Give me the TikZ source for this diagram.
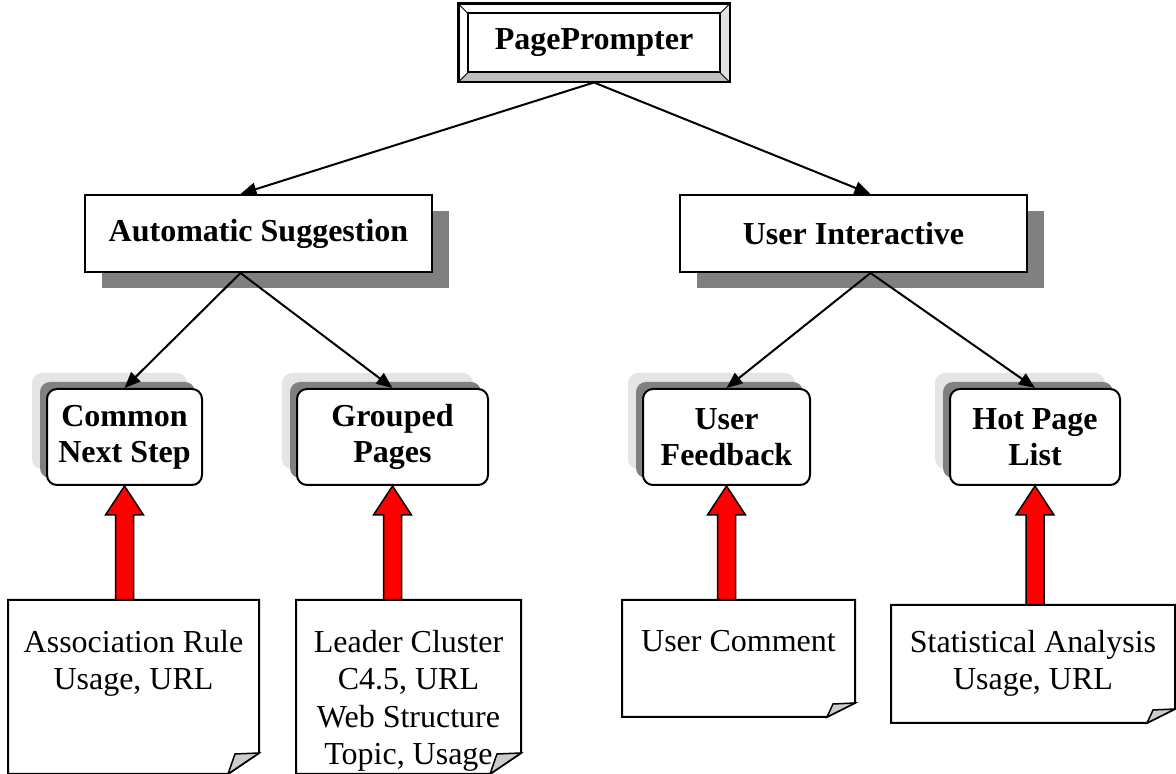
\documentclass[tikz,border=0pt]{standalone}
\usepackage{fontspec}
\setmainfont{Liberation Serif}
\usetikzlibrary{positioning,shadows,arrows.meta,calc}

\newcommand{\redup}[2]{%
  \draw[redarrow] let \p1=(#1.south), \p2=(#2.north) in
    (\x1-9pt,\y2) -- (\x1-9pt,\y1-29pt) -- (\x1-19pt,\y1-29pt) -- (\x1,\y1)
    -- (\x1+19pt,\y1-29pt) -- (\x1+9pt,\y1-29pt) -- (\x1+9pt,\y2) -- cycle;}

\begin{document}
\begin{tikzpicture}[x=1pt,y=1pt,line width=2pt,
    >={Triangle[length=16pt,width=13pt]},
    every node/.style={font=\fontsize{32}{37.5}\selectfont},
    topbox/.style={draw,fill=white,minimum width=270pt,minimum height=77pt,
      font=\fontsize{32}{37.5}\selectfont\bfseries},
    midbox/.style={draw,fill=white,minimum width=347pt,minimum height=77pt,
      font=\fontsize{32}{37.5}\selectfont\bfseries,
      general shadow={fill=black!50,shadow xshift=17pt,shadow yshift=-16pt}},
    lowbox/.style={draw,fill=white,rounded corners=10pt,minimum height=96pt,
      inner xsep=4pt,align=center,font=\fontsize{32}{36}\selectfont\bfseries,
      general shadow={fill=black!10,shadow xshift=-15pt,shadow yshift=16pt},
      general shadow={fill=black!50,shadow xshift=-7pt,shadow yshift=7pt}},
    note/.style={inner sep=0pt},
    notetext/.style={align=center,inner sep=0pt},
    redarrow/.style={fill=red,draw=black,line width=1.5pt},
    curl/.style={fill=black!20,line width=1.5pt}]

  \useasboundingbox (0,0) rectangle (1176,774);

  % top
  \node[topbox] (pp) at (594,731) {PagePrompter};
  \coordinate (pp-a) at ([shift={(10,-10)}]pp.north west);
  \coordinate (pp-b) at ([shift={(-10,-10)}]pp.north east);
  \coordinate (pp-c) at ([shift={(-10,10)}]pp.south east);
  \coordinate (pp-d) at ([shift={(10,10)}]pp.south west);
  \fill[black!25] (pp.south west) -- (pp-d) -- (pp-c) -- (pp.south east) -- cycle;
  \fill[black!12] (pp.south east) -- (pp-c) -- (pp-b) -- (pp.north east) -- cycle;
  \draw[line width=1pt] (pp.north west) -- (pp-a) (pp.north east) -- (pp-b)
    (pp.south east) -- (pp-c) (pp.south west) -- (pp-d);
  \draw (pp-a) rectangle (pp-c);
  \draw (pp.north west) rectangle (pp.south east);

  % second level
  \node[midbox] (as) at (258.5,540.5) {Automatic Suggestion};
  \node[midbox] (ui) at (853.5,540.5) {User Interactive};

  % third level
  \begin{scope}[every node/.append style={lowbox}]
    \node[minimum width=155pt] (cns) at (124.5,337) {Common\\Next Step};
    \node[minimum width=191pt] (gp)  at (392.5,337) {Grouped\\Pages};
    \node[minimum width=167pt] (uf)  at (726.5,337) {User\\Feedback};
    \node[minimum width=170pt] (hpl) at (1035,337)  {Hot Page\\List};
  \end{scope}

  \draw[->] (pp.south) -- ([xshift=-18]as.north);
  \draw[->] (pp.south) -- ([xshift=17]ui.north);
  \draw[->] ([xshift=-18]as.south) -- (cns.north);
  \draw[->] ([xshift=-18]as.south) -- (gp.north);
  \draw[->] ([xshift=17]ui.south) -- (uf.north);
  \draw[->] ([xshift=17]ui.south) -- (hpl.north);

  % notes
  \node[note,minimum width=249pt,minimum height=172pt] (ar) at (133.5,87)  {};
  \node[note,minimum width=223pt,minimum height=172pt] (lc) at (408.5,87)  {};
  \node[note,minimum width=231pt,minimum height=115pt] (uc) at (738.5,115.5) {};
  \node[note,minimum width=282pt,minimum height=116pt] (sa) at (1033,110)  {};

  \node[notetext,below=29pt of ar.north] (ar-t) {Association Rule\\Usage, URL};
  \node[notetext,below=29pt of lc.north] (lc-t) {Leader Cluster\\C4.5, URL\\Web Structure\\Topic, Usage};
  \node[notetext,below=29pt of uc.north] (uc-t) {User Comment};
  \node[notetext,below=24pt of sa.north] (sa-t) {Statistical Analysis\\Usage, URL};

  \redup{cns}{ar}
  \redup{gp}{lc}
  \redup{uf}{uc}
  \redup{hpl}{sa}

  \draw (ar.north west) -- (ar.north east) -- ([yshift=21]ar.south east)
    -- ([xshift=-31]ar.south east) -- (ar.south west) -- cycle;
  \draw[curl] ([yshift=21]ar.south east) -- ([shift={(-24,20)}]ar.south east)
    -- ([xshift=-31]ar.south east) -- cycle;
  \draw (lc.north west) -- (lc.north east) -- ([yshift=21]lc.south east)
    -- ([xshift=-31]lc.south east) -- (lc.south west) -- cycle;
  \draw[curl] ([yshift=21]lc.south east) -- ([shift={(-24,20)}]lc.south east)
    -- ([xshift=-31]lc.south east) -- cycle;
  \draw (uc.north west) -- (uc.north east) -- ([yshift=14]uc.south east)
    -- ([xshift=-28]uc.south east) -- (uc.south west) -- cycle;
  \draw[curl] ([yshift=14]uc.south east) -- ([shift={(-22,13)}]uc.south east)
    -- ([xshift=-28]uc.south east) -- cycle;
  \draw (sa.north west) -- (sa.north east) -- ([yshift=14]sa.south east)
    -- ([xshift=-28]sa.south east) -- (sa.south west) -- cycle;
  \draw[curl] ([yshift=14]sa.south east) -- ([shift={(-22,13)}]sa.south east)
    -- ([xshift=-28]sa.south east) -- cycle;

\end{tikzpicture}
\end{document}
